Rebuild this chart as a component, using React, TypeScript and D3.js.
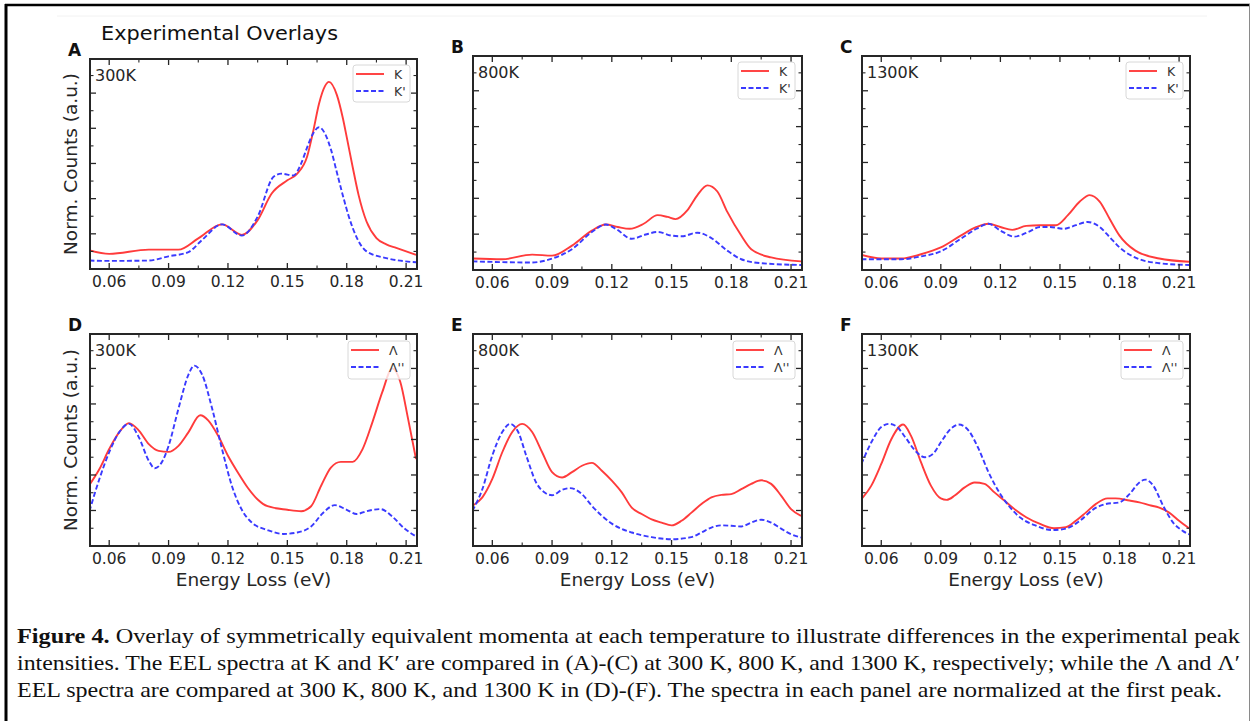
import React from 'react'
import * as d3 from 'd3'

// energy-loss tick values (eV)
const xMajorTicks = [0.06, 0.09, 0.12, 0.15, 0.18, 0.21]
const panelLetters = ['A', 'B', 'C', 'D', 'E', 'F']
const temperatures = ['300K', '800K', '1300K', '300K', '800K', '1300K']
const kLabels = ['K', "K'"]
const lambdaLabels = ['\u039B', "\u039B''"]

// K / K' (top row), [energy, norm. counts]
const k300 = [[0.05,0.53],[0.06,0.43],[0.08,0.55],[0.095,0.55],[0.105,0.87],[0.117,1.27],[0.127,0.97],[0.135,1.39],[0.142,2.14],[0.15,2.52],[0.155,2.71],[0.16,3.2],[0.163,3.9],[0.166,4.7],[0.169,5.2],[0.171,5.32],[0.175,4.95],[0.178,4.3],[0.18,3.75],[0.183,2.9],[0.186,2.1],[0.19,1.35],[0.195,0.88],[0.2,0.7],[0.205,0.6],[0.215,0.4]]
const kp300 = [[0.05,0.24],[0.06,0.23],[0.08,0.24],[0.09,0.36],[0.1,0.48],[0.107,0.83],[0.117,1.27],[0.127,0.95],[0.135,1.49],[0.143,2.62],[0.147,2.71],[0.153,2.66],[0.157,3.0],[0.16,3.46],[0.163,3.85],[0.166,4.03],[0.169,3.85],[0.172,3.4],[0.175,2.75],[0.178,2.1],[0.181,1.5],[0.185,0.9],[0.19,0.5],[0.2,0.31],[0.215,0.19]]
const k800 = [[0.05,0.32],[0.065,0.3],[0.08,0.43],[0.09,0.4],[0.1,0.68],[0.11,1.1],[0.117,1.27],[0.123,1.2],[0.129,1.15],[0.136,1.29],[0.143,1.53],[0.148,1.48],[0.152,1.42],[0.158,1.67],[0.163,2.09],[0.168,2.36],[0.173,2.19],[0.178,1.62],[0.185,0.96],[0.19,0.58],[0.2,0.35],[0.215,0.24]]
const kp800 = [[0.05,0.24],[0.08,0.21],[0.09,0.32],[0.1,0.58],[0.11,1.06],[0.117,1.27],[0.122,1.15],[0.13,0.87],[0.137,0.99],[0.143,1.06],[0.15,0.96],[0.155,0.94],[0.163,1.04],[0.17,0.89],[0.178,0.54],[0.185,0.3],[0.195,0.19],[0.215,0.14]]
const k1300 = [[0.05,0.42],[0.06,0.32],[0.07,0.32],[0.08,0.44],[0.09,0.63],[0.1,0.96],[0.108,1.2],[0.114,1.29],[0.12,1.2],[0.126,1.12],[0.133,1.23],[0.14,1.25],[0.148,1.25],[0.154,1.53],[0.16,1.91],[0.165,2.09],[0.17,1.91],[0.175,1.43],[0.18,0.96],[0.188,0.54],[0.2,0.32],[0.215,0.23]]
const kp1300 = [[0.05,0.3],[0.07,0.3],[0.08,0.38],[0.09,0.52],[0.1,0.87],[0.108,1.15],[0.114,1.29],[0.12,1.1],[0.127,0.93],[0.134,1.06],[0.14,1.2],[0.145,1.2],[0.152,1.15],[0.158,1.25],[0.164,1.34],[0.17,1.2],[0.175,0.92],[0.18,0.63],[0.19,0.3],[0.2,0.19],[0.215,0.14]]

// Lambda / Lambda' (bottom row)
const l300 = [[0.05,1.72],[0.055,2.16],[0.06,2.73],[0.065,3.2],[0.07,3.46],[0.075,3.25],[0.08,2.87],[0.085,2.68],[0.09,2.65],[0.095,2.82],[0.1,3.2],[0.106,3.68],[0.11,3.54],[0.115,3.11],[0.12,2.54],[0.125,2.07],[0.13,1.64],[0.135,1.31],[0.14,1.12],[0.15,1.02],[0.157,0.98],[0.162,1.12],[0.167,1.69],[0.172,2.21],[0.177,2.37],[0.183,2.37],[0.188,2.73],[0.193,3.49],[0.198,4.34],[0.203,5.0],[0.207,4.63],[0.211,3.58],[0.215,2.45]]
const lp300 = [[0.05,0.98],[0.055,1.88],[0.06,2.64],[0.065,3.2],[0.07,3.44],[0.075,3.06],[0.08,2.4],[0.083,2.19],[0.087,2.4],[0.09,2.82],[0.095,3.87],[0.1,4.82],[0.103,5.08],[0.107,4.82],[0.112,3.87],[0.117,2.73],[0.122,1.69],[0.127,1.02],[0.132,0.66],[0.14,0.45],[0.148,0.34],[0.155,0.38],[0.162,0.55],[0.168,0.93],[0.174,1.15],[0.18,1.02],[0.185,0.9],[0.19,0.98],[0.197,1.04],[0.203,0.83],[0.209,0.5],[0.215,0.27]]
const l800 = [[0.05,1.13],[0.055,1.37],[0.06,1.89],[0.065,2.64],[0.07,3.21],[0.075,3.44],[0.08,3.21],[0.085,2.64],[0.09,2.08],[0.095,1.93],[0.1,2.08],[0.105,2.26],[0.11,2.34],[0.115,2.12],[0.12,1.84],[0.125,1.51],[0.13,1.08],[0.135,0.9],[0.14,0.75],[0.145,0.66],[0.15,0.58],[0.155,0.71],[0.16,0.94],[0.165,1.18],[0.17,1.37],[0.175,1.44],[0.18,1.46],[0.185,1.6],[0.19,1.75],[0.195,1.85],[0.2,1.75],[0.205,1.42],[0.21,1.04],[0.215,0.85]]
const lp800 = [[0.05,0.99],[0.055,1.6],[0.06,2.55],[0.065,3.21],[0.069,3.44],[0.073,3.21],[0.077,2.55],[0.082,1.79],[0.087,1.48],[0.09,1.43],[0.095,1.58],[0.099,1.63],[0.105,1.46],[0.11,1.13],[0.115,0.85],[0.12,0.63],[0.13,0.38],[0.14,0.25],[0.15,0.19],[0.16,0.25],[0.165,0.38],[0.17,0.52],[0.175,0.58],[0.18,0.57],[0.185,0.55],[0.19,0.66],[0.195,0.74],[0.2,0.66],[0.205,0.49],[0.21,0.33],[0.215,0.24]]
const l1300 = [[0.05,1.32],[0.055,1.7],[0.06,2.31],[0.065,3.0],[0.071,3.42],[0.075,3.1],[0.08,2.36],[0.085,1.7],[0.09,1.34],[0.093,1.3],[0.097,1.42],[0.102,1.65],[0.107,1.79],[0.112,1.75],[0.117,1.51],[0.122,1.28],[0.128,1.0],[0.133,0.81],[0.14,0.62],[0.147,0.5],[0.153,0.53],[0.158,0.71],[0.163,0.94],[0.168,1.18],[0.174,1.34],[0.178,1.34],[0.185,1.28],[0.19,1.23],[0.195,1.15],[0.2,1.08],[0.205,0.94],[0.21,0.71],[0.215,0.5]]
const lp1300 = [[0.05,2.31],[0.055,2.92],[0.06,3.35],[0.064,3.44],[0.068,3.35],[0.072,3.07],[0.077,2.69],[0.082,2.5],[0.086,2.59],[0.09,2.92],[0.095,3.3],[0.099,3.42],[0.104,3.25],[0.109,2.74],[0.114,2.08],[0.12,1.46],[0.125,1.08],[0.13,0.8],[0.138,0.57],[0.146,0.45],[0.153,0.49],[0.16,0.71],[0.167,1.04],[0.173,1.18],[0.18,1.23],[0.185,1.46],[0.19,1.79],[0.193,1.87],[0.197,1.7],[0.202,1.13],[0.207,0.66],[0.212,0.42],[0.215,0.33]]

const solidSeries = [k300, k800, k1300, l300, l800, l1300]
const dashedSeries = [kp300, kp800, kp1300, lp300, lp800, lp1300]

const captionLine1 = ' Overlay of symmetrically equivalent momenta at each temperature to illustrate differences in the experimental peak'
const captionLine2 = 'intensities. The EEL spectra at K and K\u2032 are compared in (A)-(C) at 300 K, 800 K, and 1300 K, respectively; while the \u039B and \u039B\u2032'
const captionLine3 = 'EEL spectra are compared at 300 K, 800 K, and 1300 K in (D)-(F). The spectra in each panel are normalized at the first peak.'

const W = 1253
const H = 721
const SANS = 'DejaVu Sans, sans-serif'
const INK = '#262626'
const RED = '#ff3b3b'
const BLUE = '#3a3aff'

// panel frames in page pixels
const frames = [
  { x0: 90, x1: 417, y0: 59, y1: 269 },
  { x0: 473, x1: 802, y0: 56, y1: 270 },
  { x0: 862, x1: 1190, y0: 56, y1: 270 },
  { x0: 90, x1: 417, y0: 334, y1: 546 },
  { x0: 473, x1: 802, y0: 334, y1: 546 },
  { x0: 862, x1: 1190, y0: 334, y1: 546 },
]

function Panel({ i }) {
  const f = frames[i]
  const bottomRow = i >= 3
  const x = d3.scaleLinear().domain([0.0503, 0.2155]).range([f.x0, f.x1])
  const y = d3.scaleLinear().domain([0, 5.97]).range([f.y1, f.y0])
  const line = d3.line().x(d => x(d[0])).y(d => y(d[1])).curve(d3.curveMonotoneX)
  const xMinor = d3.range(0.045, 0.22, 0.015).filter(v => v > 0.0503 && v < 0.2155)
  const yMajor = d3.range(1, 6, 1)
  const yMinor = d3.range(0.5, 6, 1)
  const clipId = `clip-${i}`
  const labels = bottomRow ? lambdaLabels : kLabels
  const lg = bottomRow
    ? { x: f.x1 - 69, y: f.y0 + 7, w: 62, h: 38 }
    : { x: f.x1 - 64, y: f.y0 + 6, w: 57, h: 37 }

  return (
    <g>
      <defs>
        <clipPath id={clipId}>
          <rect x={f.x0} y={f.y0} width={f.x1 - f.x0} height={f.y1 - f.y0} />
        </clipPath>
      </defs>
      <g clipPath={`url(#${clipId})`}>
        <path d={line(solidSeries[i])} fill="none" stroke={RED} strokeWidth={1.9} />
        <path d={line(dashedSeries[i])} fill="none" stroke={BLUE} strokeWidth={1.9} strokeDasharray="5,2.5" />
      </g>
      {/* inward ticks on all four sides */}
      {xMajorTicks.map(v => (
        <g key={'xm' + v}>
          <line x1={x(v)} x2={x(v)} y1={f.y1} y2={f.y1 - 6} stroke={INK} strokeWidth={1.3} />
          <line x1={x(v)} x2={x(v)} y1={f.y0} y2={f.y0 + 6} stroke={INK} strokeWidth={1.3} />
          <text x={x(v)} y={f.y1 + 18} textAnchor="middle" fontFamily={SANS} fontSize={15.5} fill={INK}>{v.toFixed(2)}</text>
        </g>
      ))}
      {xMinor.filter(v => !xMajorTicks.some(t => Math.abs(t - v) < 1e-6)).map(v => (
        <g key={'xn' + v}>
          <line x1={x(v)} x2={x(v)} y1={f.y1} y2={f.y1 - 3.5} stroke={INK} strokeWidth={1.1} />
          <line x1={x(v)} x2={x(v)} y1={f.y0} y2={f.y0 + 3.5} stroke={INK} strokeWidth={1.1} />
        </g>
      ))}
      {yMajor.map(v => (
        <g key={'ym' + v}>
          <line x1={f.x0} x2={f.x0 + 6} y1={y(v)} y2={y(v)} stroke={INK} strokeWidth={1.3} />
          <line x1={f.x1} x2={f.x1 - 6} y1={y(v)} y2={y(v)} stroke={INK} strokeWidth={1.3} />
        </g>
      ))}
      {yMinor.map(v => (
        <g key={'yn' + v}>
          <line x1={f.x0} x2={f.x0 + 3.5} y1={y(v)} y2={y(v)} stroke={INK} strokeWidth={1.1} />
          <line x1={f.x1} x2={f.x1 - 3.5} y1={y(v)} y2={y(v)} stroke={INK} strokeWidth={1.1} />
        </g>
      ))}
      <rect x={f.x0} y={f.y0} width={f.x1 - f.x0} height={f.y1 - f.y0} fill="none" stroke={INK} strokeWidth={2} />
      <text x={f.x0 + 5} y={f.y0 + 22} fontFamily={SANS} fontSize={16} fill={INK}>{temperatures[i]}</text>
      <text x={f.x0 - 22} y={f.y0 - 3} fontFamily={SANS} fontSize={17} fontWeight="bold" fill="#111">{panelLetters[i]}</text>
      {/* legend */}
      <rect x={lg.x} y={lg.y} width={lg.w} height={lg.h} rx={3} fill="white" fillOpacity={0.8} stroke="#d8d8d8" strokeWidth={1} />
      <line x1={lg.x + 3} x2={lg.x + 31} y1={lg.y + 9} y2={lg.y + 9} stroke={RED} strokeWidth={1.9} />
      <line x1={lg.x + 3} x2={lg.x + 31} y1={lg.y + 26} y2={lg.y + 26} stroke={BLUE} strokeWidth={1.9} strokeDasharray="5,2.5" />
      <text x={lg.x + 41} y={lg.y + 13.5} fontFamily={SANS} fontSize={12.5} fill="#333">{labels[0]}</text>
      <text x={lg.x + 41} y={lg.y + 30.5} fontFamily={SANS} fontSize={12.5} fill="#333">{labels[1]}</text>
      {bottomRow && (
        <text x={(f.x0 + f.x1) / 2} y={f.y1 + 40} textAnchor="middle" fontFamily={SANS} fontSize={18.5} fill={INK}>Energy Loss (eV)</text>
      )}
      {(i === 0 || i === 3) && (
        <text transform={`translate(${f.x0 - 13},${(f.y0 + f.y1) / 2}) rotate(-90)`} textAnchor="middle" fontFamily={SANS} fontSize={18.5} fill={INK}>Norm. Counts (a.u.)</text>
      )}
    </g>
  )
}

export default function App() {
  return (
    <div style={{ position: 'absolute', left: 0, top: 0 }}>
      <svg width={W} height={H} style={{ display: 'block', background: 'white' }}>
        <rect x={0} y={0} width={W} height={H} fill="white" />
        <line x1={6} x2={6} y1={4} y2={H} stroke="#000" strokeWidth={3} />
        <line x1={5} x2={1250} y1={5} y2={5} stroke="#000" strokeWidth={2.6} />
        <line x1={1249.5} x2={1249.5} y1={4} y2={H} stroke="#8a8a8a" strokeWidth={1} />
        <line x1={57} x2={1207} y1={16} y2={16} stroke="#f2f2f2" strokeWidth={1} />
        <text x={101} y={40} fontFamily={SANS} fontSize={20} fill="#111" textLength={237} lengthAdjust="spacingAndGlyphs">Experimental Overlays</text>
        {frames.map((_, i) => <Panel key={i} i={i} />)}
        <g fontFamily="'Liberation Serif', 'Times New Roman', serif" fontSize={21} fill="#111">
          <text x={17} y={643} textLength={1223} lengthAdjust="spacingAndGlyphs">
            <tspan fontWeight="bold">Figure 4.</tspan>{captionLine1}
          </text>
          <text x={17} y={670} textLength={1223} lengthAdjust="spacingAndGlyphs">{captionLine2}</text>
          <text x={17} y={697} textLength={1205} lengthAdjust="spacingAndGlyphs">{captionLine3}</text>
        </g>
      </svg>
    </div>
  )
}
